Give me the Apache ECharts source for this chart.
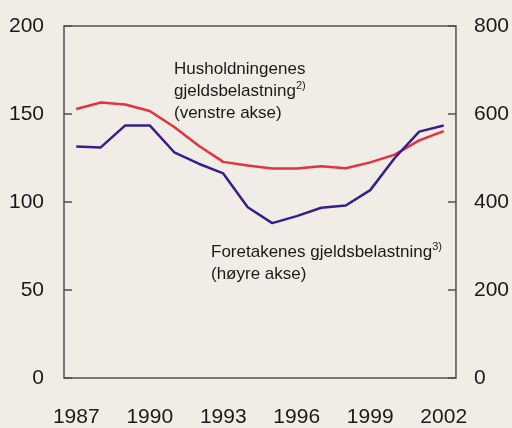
<!DOCTYPE html>
<html lang="no">
<head>
<meta charset="UTF-8">
<title>Gjeldsbelastning</title>
<script src="https://cdn.jsdelivr.net/npm/echarts@6/dist/echarts.min.js"></script>
<style>
  html, body { margin: 0; padding: 0; background: #f0ede6; }
  #main { width: 512px; height: 428px; }
</style>
</head>
<body>
<div id="main"></div>
<script type="text/javascript">
// år (kategorier)
var years = ['1987','1988','1989','1990','1991','1992','1993','1994',
             '1995','1996','1997','1998','1999','2000','2001','2002'];
// husholdningenes gjeldsbelastning, venstre akse
var husholdninger = [152.8, 156.5, 155.4, 151.7, 142.6, 132.0, 122.8, 120.7,
                     119.0, 119.0, 120.3, 119.2, 122.5, 126.9, 135.0, 140.3];
// foretakenes gjeldsbelastning, høyre akse
var foretak = [526, 524, 574, 574, 513, 487, 465, 388,
               352, 368, 387, 392, 427, 500, 560, 574];

var axisColor = '#505050';
var font = '"Liberation Sans", Arial, sans-serif';

var chart = echarts.init(document.getElementById('main'));
chart.setOption({
    animation: false,
    backgroundColor: '#f0ede6',
    grid: {
        left: 64, right: 56, top: 26, bottom: 49,
        show: true, borderColor: axisColor, borderWidth: 1.5
    },
    xAxis: {
        type: 'category',
        data: years,
        boundaryGap: true,
        axisLine: { show: false },
        axisTick: { inside: true, length: 8, interval: 2,
                    lineStyle: { color: axisColor, width: 1.5 } },
        axisLabel: { interval: 2, margin: 29, color: '#1a1a1a',
                     fontSize: 21, fontFamily: font }
    },
    yAxis: [{
        type: 'value', min: 0, max: 200, interval: 50,
        splitLine: { show: false },
        axisLine: { show: false },
        axisTick: { show: true, inside: true, length: 8,
                    lineStyle: { color: axisColor, width: 1.5 } },
        axisLabel: { margin: 20, color: '#1a1a1a', fontSize: 21, fontFamily: font }
    }, {
        type: 'value', min: 0, max: 800, interval: 200,
        position: 'right',
        splitLine: { show: false },
        axisLine: { show: false },
        axisTick: { show: true, inside: true, length: 8,
                    lineStyle: { color: axisColor, width: 1.5 } },
        axisLabel: { margin: 18, color: '#1a1a1a', fontSize: 21, fontFamily: font }
    }],
    series: [{
        name: 'Husholdningenes gjeldsbelastning',
        type: 'line',
        yAxisIndex: 0,
        data: husholdninger,
        symbol: 'none',
        lineStyle: { color: '#e4323f', width: 2.5 }
    }, {
        name: 'Foretakenes gjeldsbelastning',
        type: 'line',
        yAxisIndex: 1,
        data: foretak,
        symbol: 'none',
        lineStyle: { color: '#3a1d8a', width: 2.5 }
    }],
    graphic: [{
        type: 'text',
        left: 174, top: 58,
        style: {
            text: 'Husholdningenes\ngjeldsbelastning{sup|2)}\n(venstre akse)',
            fill: '#1a1a1a', fontSize: 17, fontFamily: font, lineHeight: 22,
            rich: {
                sup: { fontSize: 11, fontFamily: font, fill: '#1a1a1a',
                       lineHeight: 14, verticalAlign: 'top' }
            }
        }
    }, {
        type: 'text',
        left: 211, top: 241,
        style: {
            text: 'Foretakenes gjeldsbelastning{sup|3)}\n(høyre akse)',
            fill: '#1a1a1a', fontSize: 17, fontFamily: font, lineHeight: 22,
            rich: {
                sup: { fontSize: 11, fontFamily: font, fill: '#1a1a1a',
                       lineHeight: 14, verticalAlign: 'top' }
            }
        }
    }]
});
</script>
</body>
</html>
